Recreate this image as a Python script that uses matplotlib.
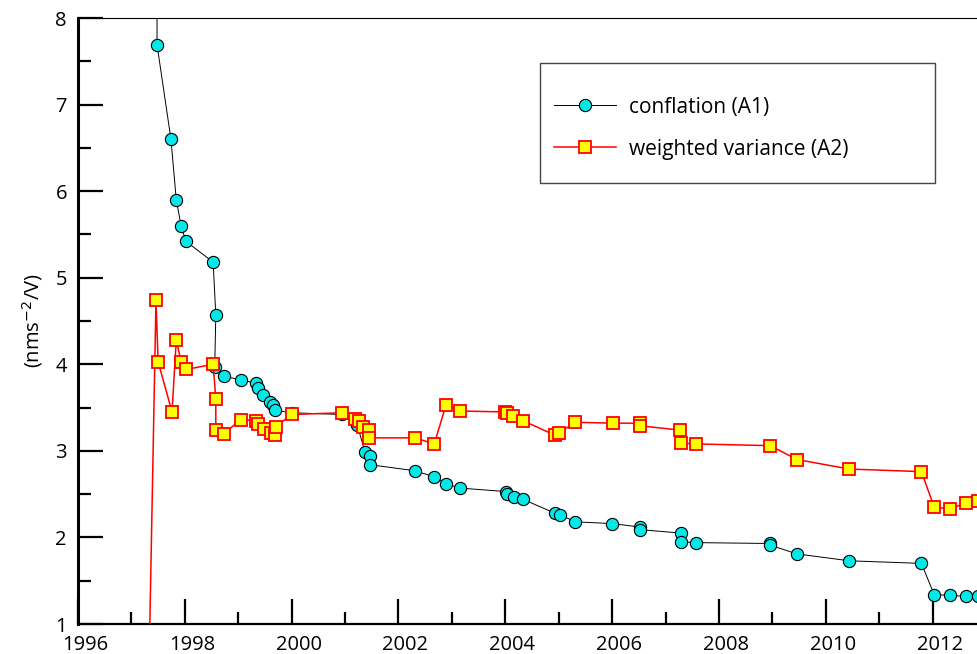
import matplotlib
matplotlib.use("Agg")
import matplotlib.pyplot as plt
from matplotlib.patches import Rectangle
from matplotlib.transforms import ScaledTranslation

# conflation (A1) - first point lies above the plot range
a1_year = [1997.47, 1997.48, 1997.74, 1997.84, 1997.93, 1998.02, 1998.53, 1998.58, 1998.56,
           1998.74, 1999.05, 1999.33, 1999.37, 1999.46, 1999.59, 1999.66, 1999.68, 2000.0,
           2000.94, 2001.23, 2001.37, 2001.47, 2001.47, 2002.31, 2002.67, 2002.89, 2003.15,
           2004.01, 2004.03, 2004.16, 2004.33, 2004.93, 2005.03, 2005.31, 2006.0, 2006.52,
           2006.52, 2007.29, 2007.29, 2007.57, 2008.96, 2008.96, 2009.46, 2010.44, 2011.79,
           2012.03, 2012.33, 2012.63, 2012.85]
a1_val = [12.0, 7.69, 6.60, 5.90, 5.60, 5.42, 5.18, 4.57, 3.97,
          3.86, 3.82, 3.78, 3.73, 3.64, 3.57, 3.53, 3.47, 3.44,
          3.42, 3.30, 2.99, 2.94, 2.84, 2.77, 2.70, 2.62, 2.57,
          2.53, 2.50, 2.47, 2.44, 2.28, 2.26, 2.18, 2.16, 2.12,
          2.09, 2.05, 1.95, 1.94, 1.93, 1.91, 1.81, 1.73, 1.70,
          1.34, 1.33, 1.32, 1.32]

# weighted variance (A2) - first point lies below the plot range
a2_year = [1997.16, 1997.46, 1997.50, 1997.76, 1997.84, 1997.93, 1998.02, 1998.53, 1998.58,
           1998.58, 1998.73, 1999.05, 1999.33, 1999.37, 1999.48, 1999.61, 1999.68, 1999.70,
           2000.0, 2000.94, 2001.19, 2001.26, 2001.34, 2001.45, 2001.45, 2002.31, 2002.67,
           2002.89, 2003.15, 2004.0, 2004.04, 2004.15, 2004.33, 2004.93, 2005.01, 2005.31,
           2006.02, 2006.52, 2006.52, 2007.27, 2007.29, 2007.57, 2008.96, 2009.46, 2010.44,
           2011.79, 2012.03, 2012.33, 2012.63, 2012.85]
a2_val = [-5.0, 4.74, 4.03, 3.45, 4.28, 4.03, 3.94, 4.00, 3.60,
          3.24, 3.20, 3.36, 3.35, 3.31, 3.25, 3.21, 3.18, 3.28,
          3.42, 3.44, 3.37, 3.34, 3.27, 3.24, 3.15, 3.15, 3.08,
          3.53, 3.46, 3.45, 3.44, 3.40, 3.35, 3.18, 3.21, 3.33,
          3.32, 3.32, 3.29, 3.24, 3.09, 3.08, 3.06, 2.90, 2.79,
          2.76, 2.35, 2.33, 2.40, 2.42]

plt.rcParams['font.family'] = ['Open Sans', 'DejaVu Sans']

fig = plt.figure(figsize=(9.78, 6.54), dpi=100)
ax = fig.add_axes([78 / 978, 30 / 654, 900 / 978, 606 / 654])

ax.plot(a1_year, a1_val, color="black", lw=0.7, marker="o", ms=8.8,
        mfc="#00e8e8", mec="black", mew=0.8, label="conflation (A1)", zorder=3)
ax.plot(a2_year, a2_val, color="red", lw=1.1, marker="s", ms=8.6,
        mfc="#ffff00", mec="red", mew=1.3, label="weighted variance (A2)", zorder=4)

ax.set_xlim(1996, 2012.85)
ax.set_ylim(1, 8)
ax.set_xticks(range(1996, 2013, 2))
ax.set_xticks(range(1997, 2013, 2), minor=True)
ax.set_yticks(range(1, 9))
ax.set_yticks([1.5 + i for i in range(7)], minor=True)

ax.tick_params(which="major", direction="in", length=18, width=1.6, labelsize=14.5)
ax.tick_params(which="minor", direction="in", length=9, width=1.6)
ax.tick_params(axis="y", pad=8)
ax.tick_params(axis="x", pad=8)
# x labels sit a little right of their ticks in the original
for lab in ax.get_xticklabels():
    lab.set_transform(lab.get_transform() + ScaledTranslation(7 / 100, 0, fig.dpi_scale_trans))
ax.spines["right"].set_visible(False)
ax.spines["left"].set_linewidth(2.2)
ax.spines["bottom"].set_linewidth(1.6)
ax.spines["top"].set_linewidth(0.8)

ax.set_ylabel("(nms$^{-2}$/V)", fontsize=14.5)
ax.yaxis.set_label_coords(-0.037, 0.5)

# legend box drawn separately to get the wide frame
fig.patches.append(Rectangle((540 / 978, 1 - 183 / 654), 395 / 978, 120 / 654,
                             transform=fig.transFigure, fill=False,
                             edgecolor="#444444", lw=1.0))
ax.legend(loc="upper left", bbox_to_anchor=(535 / 978, 1 - 78 / 654),
          bbox_transform=fig.transFigure, frameon=False, fontsize=15,
          handlelength=3.0, labelspacing=1.0, handletextpad=0.6)

fig.savefig("out.png", dpi=100)
